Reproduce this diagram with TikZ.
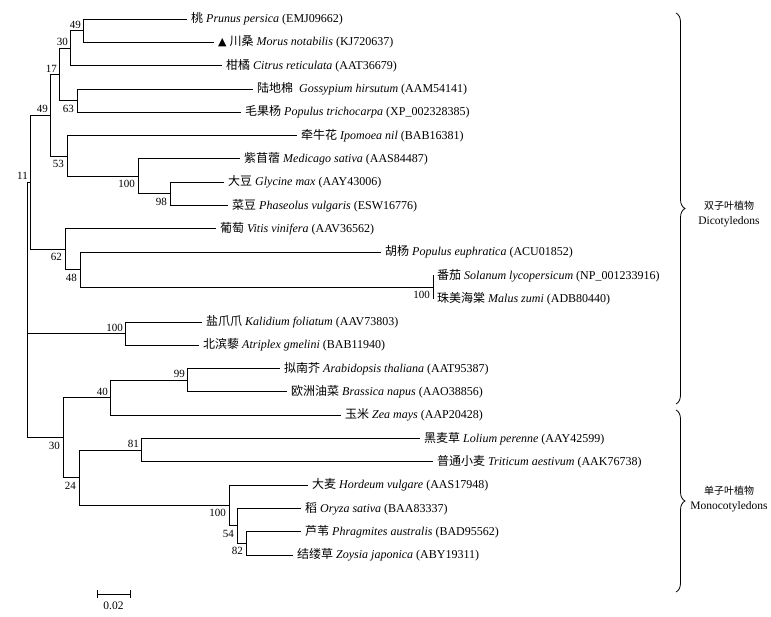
\documentclass[tikz,border=0pt]{standalone}
\usepackage{fontspec}
\setmainfont{Liberation Serif}
\newfontfamily\cjk{Noto Sans CJK SC}
\newfontfamily\symfont{DejaVu Sans}
\usetikzlibrary{decorations.pathreplacing}
\newcommand\leafname[3]{{\cjk #1} \textit{#2} (#3)}
\newcommand\tri{{\symfont\fontsize{11}{12}\selectfont ▲}}
\begin{document}
\begin{tikzpicture}[x=1pt,y=-1pt,
  br/.style={line width=0.8pt},
  lf/.style={anchor=west, inner xsep=4pt, inner ysep=1pt, font=\fontsize{12}{14}\selectfont},
  bs/.style={inner sep=2pt, font=\fontsize{11}{13}\selectfont},
  bsa/.style={bs, above left},
  bsb/.style={bs, below left, xshift=-1pt, yshift=-2pt},
  grp/.style={align=center, font=\fontsize{11.5}{15}\selectfont}]
\useasboundingbox (0,0) rectangle (771,616);
% internal nodes
\coordinate (root) at (27,310);
\coordinate (n11) at (30,182.1);
\coordinate (n49b) at (50,115.1);
\coordinate (n17) at (59,74.3);
\coordinate (n30) at (70,48.1);
\coordinate (n49a) at (83,30.65);
\coordinate (n63) at (77,100.55);
\coordinate (n53) at (67,155.9);
\coordinate (n100a) at (138,176.3);
\coordinate (n98) at (170,193.75);
\coordinate (n62) at (65,249.1);
\coordinate (n48) at (80,269.5);
\coordinate (n100b) at (433,286.95);
\coordinate (n100c) at (125,333.55);
\coordinate (n30b) at (63,437.65);
\coordinate (n40) at (110,397.6);
\coordinate (n99) at (187,380.15);
\coordinate (n24) at (79,477.7);
\coordinate (n81) at (141,450.05);
\coordinate (n100d) at (229,505.4);
\coordinate (n54) at (237,525.8);
\coordinate (n82) at (246,543.25);
% leaf tips
\coordinate (t0) at (187,19);
\coordinate (t1) at (214,42.3);
\coordinate (t2) at (222,65.6);
\coordinate (t3) at (253,88.9);
\coordinate (t4) at (241,112.2);
\coordinate (t5) at (297,135.5);
\coordinate (t6) at (240,158.8);
\coordinate (t7) at (224,182.1);
\coordinate (t8) at (228,205.4);
\coordinate (t9) at (216,228.7);
\coordinate (t10) at (381,252);
\coordinate (t11) at (433,275.3);
\coordinate (t12) at (433,298.6);
\coordinate (t13) at (202,321.9);
\coordinate (t14) at (199,345.2);
\coordinate (t15) at (280,368.5);
\coordinate (t16) at (287,391.8);
\coordinate (t17) at (341,415.1);
\coordinate (t18) at (420,438.4);
\coordinate (t19) at (433,461.7);
\coordinate (t20) at (308,485);
\coordinate (t21) at (301,508.3);
\coordinate (t22) at (301,531.6);
\coordinate (t23) at (293,554.9);
% branches
\draw[br] (root) |- (n11) (root) |- (n100c) (root) |- (n30b);
\draw[br] (n11) |- (n49b) (n11) |- (n62);
\draw[br] (n49b) |- (n17) (n49b) |- (n53);
\draw[br] (n17) |- (n30) (n17) |- (n63);
\draw[br] (n30) |- (n49a) (n30) |- (t2);
\draw[br] (n49a) |- (t0) (n49a) |- (t1);
\draw[br] (n63) |- (t3) (n63) |- (t4);
\draw[br] (n53) |- (t5) (n53) |- (n100a);
\draw[br] (n100a) |- (t6) (n100a) |- (n98);
\draw[br] (n98) |- (t7) (n98) |- (t8);
\draw[br] (n62) |- (t9) (n62) |- (n48);
\draw[br] (n48) |- (t10) (n48) |- (n100b);
\draw[br] (n100b) |- (t11) (n100b) |- (t12);
\draw[br] (n100c) |- (t13) (n100c) |- (t14);
\draw[br] (n30b) |- (n40) (n30b) |- (n24);
\draw[br] (n40) |- (n99) (n40) |- (t17);
\draw[br] (n99) |- (t15) (n99) |- (t16);
\draw[br] (n24) |- (n81) (n24) |- (n100d);
\draw[br] (n81) |- (t18) (n81) |- (t19);
\draw[br] (n100d) |- (t20) (n100d) |- (n54);
\draw[br] (n54) |- (t21) (n54) |- (n82);
\draw[br] (n82) |- (t22) (n82) |- (t23);
% leaf labels
\node[lf] (L0) at (t0) {\leafname{桃}{Prunus persica}{EMJ09662}};
\node[lf] (L1) at (t1) {\tri\ \leafname{川桑}{Morus notabilis}{KJ720637}};
\node[lf] (L2) at (t2) {\leafname{柑橘}{Citrus reticulata}{AAT36679}};
\node[lf] (L3) at (t3) {{\cjk 陆地棉}\ \ \textit{Gossypium hirsutum} (AAM54141)};
\node[lf] (L4) at (t4) {\leafname{毛果杨}{Populus trichocarpa}{XP\_002328385}};
\node[lf] (L5) at (t5) {\leafname{牵牛花}{Ipomoea nil}{BAB16381}};
\node[lf] (L6) at (t6) {\leafname{紫苜蓿}{Medicago sativa}{AAS84487}};
\node[lf] (L7) at (t7) {\leafname{大豆}{Glycine max}{AAY43006}};
\node[lf] (L8) at (t8) {\leafname{菜豆}{Phaseolus vulgaris}{ESW16776}};
\node[lf] (L9) at (t9) {\leafname{葡萄}{Vitis vinifera}{AAV36562}};
\node[lf] (L10) at (t10) {\leafname{胡杨}{Populus euphratica}{ACU01852}};
\node[lf] (L11) at (t11) {\leafname{番茄}{Solanum lycopersicum}{NP\_001233916}};
\node[lf] (L12) at (t12) {\leafname{珠美海棠}{Malus zumi}{ADB80440}};
\node[lf] (L13) at (t13) {\leafname{盐爪爪}{Kalidium foliatum}{AAV73803}};
\node[lf] (L14) at (t14) {\leafname{北滨藜}{Atriplex gmelini}{BAB11940}};
\node[lf] (L15) at (t15) {\leafname{拟南芥}{Arabidopsis thaliana}{AAT95387}};
\node[lf] (L16) at (t16) {\leafname{欧洲油菜}{Brassica napus}{AAO38856}};
\node[lf] (L17) at (t17) {\leafname{玉米}{Zea mays}{AAP20428}};
\node[lf] (L18) at (t18) {\leafname{黑麦草}{Lolium perenne}{AAY42599}};
\node[lf] (L19) at (t19) {\leafname{普通小麦}{Triticum aestivum}{AAK76738}};
\node[lf] (L20) at (t20) {\leafname{大麦}{Hordeum vulgare}{AAS17948}};
\node[lf] (L21) at (t21) {\leafname{稻}{Oryza sativa}{BAA83337}};
\node[lf] (L22) at (t22) {\leafname{芦苇}{Phragmites australis}{BAD95562}};
\node[lf] (L23) at (t23) {\leafname{结缕草}{Zoysia japonica}{ABY19311}};
% bootstrap values
\node[bsa] (b1) at (n49a) {49};
\node[bsa] (b2) at (n30) {30};
\node[bsa] (b3) at (n17) {17};
\node[bsb] (b4) at (n63) {63};
\node[bsa] (b5) at (n49b) {49};
\node[bsb] (b6) at (n53) {53};
\node[bsb] (b7) at (n100a) {100};
\node[bsb] (b8) at (n98) {98};
\node[bsa] (b9) at (n11) {11};
\node[bsb] (b10) at (n62) {62};
\node[bsb] (b11) at (n48) {48};
\node[bsb] (b12) at (n100b) {100};
\node[bsa] (b13) at (n100c) {100};
\node[bsa] (b14) at (n99) {99};
\node[bsa] (b15) at (n40) {40};
\node[bsb] (b16) at (n30b) {30};
\node[bsa] (b17) at (n81) {81};
\node[bsb] (b18) at (n24) {24};
\node[bsb] (b19) at (n100d) {100};
\node[bsb] (b20) at (n54) {54};
\node[bsb] (b21) at (n82) {82};
% braces
\coordinate (d1) at (676,13);
\coordinate (d2) at (676,404);
\coordinate (m1) at (676,410);
\coordinate (m2) at (676,592);
\draw[br, decorate, decoration={brace, amplitude=9pt}] (d1) -- (d2);
\draw[br, decorate, decoration={brace, amplitude=9pt}] (m1) -- (m2);
\node[grp] (g1) at (729,214.5) {{\cjk\fontsize{10}{15}\selectfont 双子叶植物}\\Dicotyledons};
\node[grp] (g2) at (729,499.5) {{\cjk\fontsize{10}{15}\selectfont 单子叶植物}\\Monocotyledons};
% scale bar
\coordinate (s1) at (97,594);
\coordinate (s2) at (130,594);
\draw[br] (s1) -- (s2);
\draw[br] ([yshift=-4pt]s1) -- ([yshift=4pt]s1);
\draw[br] ([yshift=-4pt]s2) -- ([yshift=4pt]s2);
\node[bs, font=\fontsize{11.5}{13}\selectfont] (sl) at (113.5,606) {0.02};
\end{tikzpicture}
\end{document}
